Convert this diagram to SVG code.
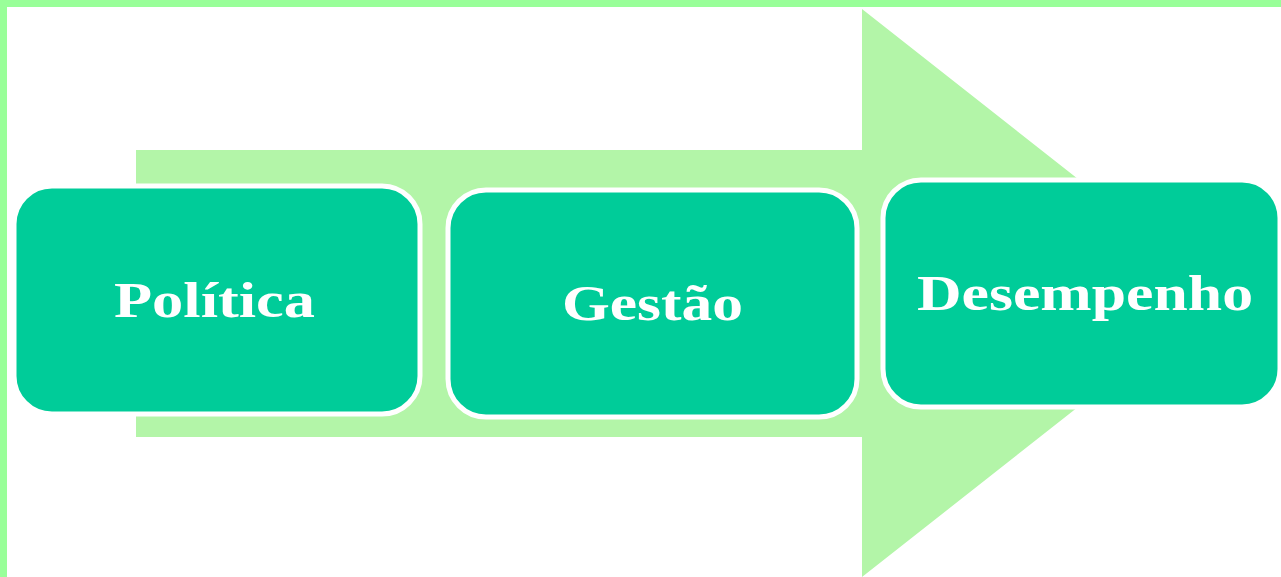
<svg xmlns="http://www.w3.org/2000/svg" width="1281" height="577" viewBox="0 0 1281 577">
<style>
.box{fill:#00cc99;stroke:#ffffff;stroke-width:5}
.lbl{font-family:"Liberation Serif","Times New Roman",serif;font-weight:bold;font-size:51px;fill:#ffffff;text-anchor:middle}
</style>
<rect x="0" y="0" width="1281" height="577" fill="#ffffff"/>
<rect x="0" y="0" width="1281" height="7" fill="#99ff99"/>
<rect x="0" y="0" width="7" height="577" fill="#99ff99"/>
<g id="connectors">
<polygon points="136,150 862,150 862,9 1223,293 862,577 862,437 136,437" fill="#b3f5a8"/>
</g>
<g id="node-politica">
<rect class="box" x="14" y="186" width="406" height="228" rx="38" ry="38"/>
<text class="lbl" x="214.5" y="317" textLength="201" lengthAdjust="spacingAndGlyphs">Política</text>
</g>
<g id="node-gestao">
<rect class="box" x="448" y="190" width="409" height="227" rx="38" ry="38"/>
<text class="lbl" x="652.5" y="320" textLength="181" lengthAdjust="spacingAndGlyphs">Gestão</text>
</g>
<g id="node-desempenho">
<rect class="box" x="883" y="180" width="397" height="227" rx="38" ry="38"/>
<text class="lbl" x="1085" y="310" textLength="336" lengthAdjust="spacingAndGlyphs">Desempenho</text>
</g>
</svg>
